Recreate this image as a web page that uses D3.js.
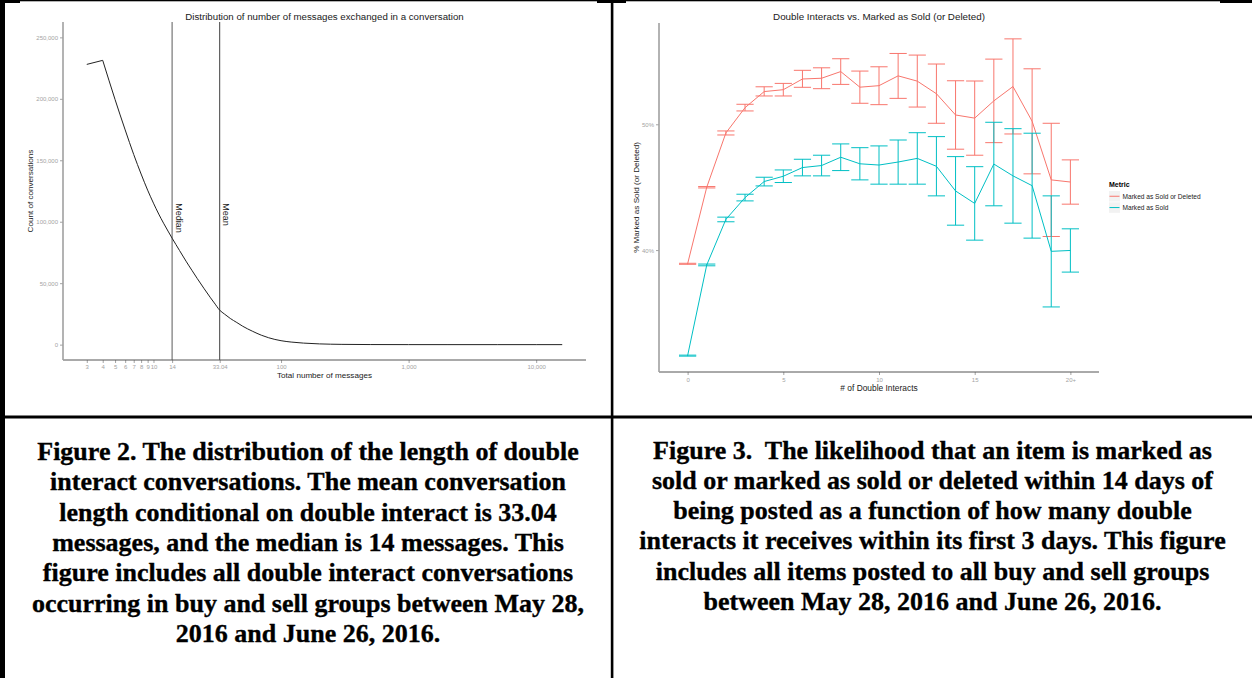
<!DOCTYPE html>
<html>
<head>
<meta charset="utf-8">
<script src="https://cdn.jsdelivr.net/npm/d3@7"></script>
<style>
  body { margin: 0; background: #fff; }
  svg { display: block; }
  .sans { font-family: "Liberation Sans", Arial, Helvetica, sans-serif; }
  .cap { font-family: "Liberation Serif", "Times New Roman", serif; font-weight: bold; white-space: pre; }
</style>
</head>
<body>
<svg id="page" width="1252" height="678"></svg>
<script>
// ---------- Figure 2: length of double interact conversations ----------
const msgCounts  = [3, 4, 5, 6, 7, 8, 9, 10, 11, 12, 13, 14, 15, 16, 17, 18, 19, 20, 22, 25, 28, 30, 33.04, 36, 40, 45, 50, 60, 70, 80, 100, 120, 150, 200, 300, 500, 1000, 2000, 5000, 10000, 16000];
const convCounts = [228000, 231300, 199400, 174700, 154700, 138800, 125700, 115100, 106200, 98800, 92400, 86600, 81400, 76600, 72100, 67900, 64050, 60500, 53900, 45400, 38100, 33900, 28050, 24900, 21300, 18000, 15000, 10800, 7700, 5600, 3200, 2100, 1250, 600, 220, 70, 20, 8, 3, 1, 0];
const msgTicks   = [3, 4, 5, 6, 7, 8, 9, 10, 14, 33.04, 100, 1000, 10000];
const countTicks = [0, 50000, 100000, 150000, 200000, 250000];
const medianMsgs = 14;
const meanMsgs   = 33.04;

// ---------- Figure 3: double interacts vs. marked as sold ----------
const interacts          = d3.range(0, 21);
const interactTicks      = [0, 5, 10, 15, 20];
const interactTickLabels = ["0", "5", "10", "15", "20+"];
const pctTicks           = [40, 50];

const soldDelMean = [38.91, 45.00, 49.31, 51.32, 52.60, 52.75, 53.60, 53.66, 54.19, 52.95, 53.07, 53.85, 53.43, 52.43, 50.74, 50.49, 51.86, 53.00, 50.24, 45.58, 45.41];
const soldDelLow  = [38.87, 44.94, 49.15, 51.06, 52.25, 52.25, 52.94, 52.83, 53.17, 51.67, 51.56, 52.06, 51.37, 50.08, 48.02, 47.54, 48.54, 49.23, 46.06, 41.08, 43.65];
const soldDelHigh = [38.95, 45.05, 49.47, 51.59, 52.98, 53.25, 54.29, 54.49, 55.21, 54.23, 54.57, 55.63, 55.50, 54.79, 53.46, 53.44, 55.18, 56.79, 54.41, 50.08, 47.17];

const soldMean = [31.61, 38.82, 42.44, 44.17, 45.45, 45.87, 46.56, 46.72, 47.38, 46.86, 46.76, 47.00, 47.29, 46.66, 44.70, 43.71, 46.84, 45.90, 45.12, 39.90, 39.97];
const soldLow  = [31.57, 38.75, 42.25, 43.91, 45.10, 45.37, 45.90, 45.90, 46.32, 45.58, 45.24, 45.24, 45.24, 44.31, 41.98, 40.79, 43.52, 42.14, 40.95, 35.48, 38.25];
const soldHigh = [31.65, 38.89, 42.62, 44.44, 45.79, 46.37, 47.22, 47.54, 48.44, 48.14, 48.28, 48.75, 49.33, 49.02, 47.43, 46.63, 50.16, 49.65, 49.29, 44.31, 41.69];

const metricNames  = ["Marked as Sold or Deleted", "Marked as Sold"];
const metricColors = ["#F8766D", "#00BFC4"];

// ---------- captions ----------
const caption2 = [
  "Figure 2. The distribution of the length of double",
  "interact conversations. The mean conversation",
  "length conditional on double interact is 33.04",
  "messages, and the median is 14 messages. This",
  "figure includes all double interact conversations",
  "occurring in buy and sell groups between May 28,",
  "2016 and June 26, 2016."
];
const caption3 = [
  "Figure 3.  The likelihood that an item is marked as",
  "sold or marked as sold or deleted within 14 days of",
  "being posted as a function of how many double",
  "interacts it receives within its first 3 days. This figure",
  "includes all items posted to all buy and sell groups",
  "between May 28, 2016 and June 26, 2016."
];

const svg = d3.select("#page");
const TICK_COL = "#a3a3a3";
const TEXT_COL = "#1a1a1a";

// ggplot-like 5% expansion of a numeric range
function expand(lo, hi, f = 0.05) { const s = hi - lo; return [lo - s * f, hi + s * f]; }

function styleTicks(axisG) {
  axisG.select(".domain").remove();
  axisG.selectAll(".tick line").attr("stroke", TICK_COL);
  axisG.selectAll(".tick text").attr("fill", TICK_COL).attr("font-size", 6)
    .attr("font-family", "Liberation Sans, Arial, sans-serif");
}

// ====================== Figure 2 ======================
(function () {
  const P = { left: 63, right: 586, top: 22, bottom: 360 };
  const g = svg.append("g").attr("class", "sans");

  const lx = expand(Math.log10(d3.min(msgCounts)), Math.log10(d3.max(msgCounts)));
  const x = d3.scaleLog().domain([10 ** lx[0], 10 ** lx[1]]).range([P.left, P.right]);
  const y = d3.scaleLinear().domain(expand(0, d3.max(countTicks))).range([P.bottom, P.top]);

  // vertical reference lines
  g.append("line").attr("x1", x(medianMsgs)).attr("x2", x(medianMsgs))
    .attr("y1", P.top).attr("y2", P.bottom).attr("stroke", "#808080").attr("stroke-width", 1.3);
  g.append("line").attr("x1", x(meanMsgs)).attr("x2", x(meanMsgs))
    .attr("y1", P.top).attr("y2", P.bottom).attr("stroke", "#2a2a2a").attr("stroke-width", 0.9);

  // distribution curve: straight first step, smooth afterwards
  const pts = msgCounts.map((m, i) => [x(m), y(convCounts[i])]);
  g.append("path").attr("d", d3.line()(pts.slice(0, 2)))
    .attr("fill", "none").attr("stroke", "#222").attr("stroke-width", 1);
  g.append("path").attr("d", d3.line().curve(d3.curveMonotoneX)(pts.slice(1)))
    .attr("fill", "none").attr("stroke", "#222").attr("stroke-width", 1);

  // vertical labels for median / mean
  [["Median", medianMsgs], ["Mean", meanMsgs]].forEach(([lab, v]) => {
    const tx = x(v) + 3.5, ty = y(115000);
    g.append("text").attr("transform", `translate(${tx},${ty}) rotate(90)`)
      .attr("font-size", 9).attr("fill", TEXT_COL).text(lab);
  });

  // axes
  const xAxis = d3.axisBottom(x).tickValues(msgTicks).tickSize(3).tickPadding(2)
    .tickFormat(d => d === meanMsgs ? "33.04" : d3.format(",")(d));
  styleTicks(g.append("g").attr("transform", `translate(0,${P.bottom})`).call(xAxis));
  g.append("line").attr("x1", P.left).attr("x2", P.right).attr("y1", P.bottom).attr("y2", P.bottom)
    .attr("stroke", "#555").attr("stroke-width", 1);

  const yAxis = d3.axisLeft(y).tickValues(countTicks).tickSize(3).tickPadding(2).tickFormat(d3.format(","));
  styleTicks(g.append("g").attr("transform", `translate(${P.left},0)`).call(yAxis));
  g.append("line").attr("x1", P.left).attr("x2", P.left).attr("y1", P.top).attr("y2", P.bottom)
    .attr("stroke", "#a0a0a0").attr("stroke-width", 1.6);

  // titles
  const cx = (P.left + P.right) / 2;
  g.append("text").attr("x", cx).attr("y", 20).attr("text-anchor", "middle")
    .attr("font-size", 9.7).attr("fill", TEXT_COL)
    .text("Distribution of number of messages exchanged in a conversation");
  g.append("text").attr("x", cx).attr("y", 378).attr("text-anchor", "middle")
    .attr("font-size", 8.1).attr("fill", TEXT_COL).text("Total number of messages");
  g.append("text").attr("transform", `translate(33,${(P.top + P.bottom) / 2}) rotate(-90)`)
    .attr("text-anchor", "middle").attr("font-size", 8.1).attr("fill", TEXT_COL)
    .text("Count of conversations");
})();

// ====================== Figure 3 ======================
(function () {
  const P = { left: 659, right: 1099, top: 23, bottom: 372 };
  const g = svg.append("g").attr("class", "sans");
  const halfW = 0.45;

  const x = d3.scaleLinear()
    .domain(expand(d3.min(interacts) - halfW, d3.max(interacts) + halfW))
    .range([P.left, P.right]);
  const y = d3.scaleLinear()
    .domain(expand(d3.min(soldLow), d3.max(soldDelHigh)))
    .range([P.bottom, P.top]);

  const series = [
    { mean: soldDelMean, low: soldDelLow, high: soldDelHigh, color: metricColors[0] },
    { mean: soldMean, low: soldLow, high: soldHigh, color: metricColors[1] }
  ];

  series.forEach(s => {
    const line = d3.line().x((d, i) => x(interacts[i])).y(d => y(d));
    g.append("path").datum(s.mean).attr("d", line)
      .attr("fill", "none").attr("stroke", s.color).attr("stroke-width", 1);

    const eb = g.append("g").attr("stroke", s.color).attr("stroke-width", 1).attr("fill", "none");
    interacts.forEach((k, i) => {
      const xl = x(k - halfW), xr = x(k + halfW), xc = x(k);
      eb.append("line").attr("x1", xc).attr("x2", xc).attr("y1", y(s.low[i])).attr("y2", y(s.high[i]));
      eb.append("line").attr("x1", xl).attr("x2", xr).attr("y1", y(s.low[i])).attr("y2", y(s.low[i]));
      eb.append("line").attr("x1", xl).attr("x2", xr).attr("y1", y(s.high[i])).attr("y2", y(s.high[i]));
    });
  });

  // axes
  const xAxis = d3.axisBottom(x).tickValues(interactTicks).tickSize(3).tickPadding(3)
    .tickFormat((d, i) => interactTickLabels[i]);
  styleTicks(g.append("g").attr("transform", `translate(0,${P.bottom})`).call(xAxis));
  g.append("line").attr("x1", P.left).attr("x2", P.right).attr("y1", P.bottom).attr("y2", P.bottom)
    .attr("stroke", "#555").attr("stroke-width", 1);

  const yAxis = d3.axisLeft(y).tickValues(pctTicks).tickSize(3).tickPadding(2).tickFormat(d => d + "%");
  styleTicks(g.append("g").attr("transform", `translate(${P.left},0)`).call(yAxis));
  g.append("line").attr("x1", P.left).attr("x2", P.left).attr("y1", P.top).attr("y2", P.bottom)
    .attr("stroke", "#a0a0a0").attr("stroke-width", 1.6);

  // titles
  const cx = (P.left + P.right) / 2;
  g.append("text").attr("x", cx).attr("y", 20).attr("text-anchor", "middle")
    .attr("font-size", 9.8).attr("fill", TEXT_COL)
    .text("Double Interacts vs. Marked as Sold (or Deleted)");
  g.append("text").attr("x", cx).attr("y", 391).attr("text-anchor", "middle")
    .attr("font-size", 8.4).attr("fill", TEXT_COL).text("# of Double Interacts");
  g.append("text").attr("transform", `translate(639,${(P.top + P.bottom) / 2}) rotate(-90)`)
    .attr("text-anchor", "middle").attr("font-size", 8.1).attr("fill", TEXT_COL)
    .text("% Marked as Sold (or Deleted)");

  // legend
  const lg = g.append("g").attr("transform", "translate(1109,183)");
  lg.append("text").attr("x", 0).attr("y", 3.5).attr("font-size", 7).attr("font-weight", "bold")
    .attr("fill", "#000").text("Metric");
  metricNames.forEach((name, i) => {
    const ky = 8 + i * 11.3;
    lg.append("rect").attr("x", 0).attr("y", ky).attr("width", 11).attr("height", 10.5).attr("fill", "#f2f2f2");
    lg.append("line").attr("x1", 0.5).attr("x2", 10.5).attr("y1", ky + 5.25).attr("y2", ky + 5.25)
      .attr("stroke", metricColors[i]).attr("stroke-width", 1);
    lg.append("text").attr("x", 13.5).attr("y", ky + 7.7).attr("font-size", 6.6).attr("fill", "#222").text(name);
  });
})();

// ====================== captions ======================
function drawCaption(lines, cx, y0) {
  const t = svg.append("text").attr("class", "cap").attr("text-anchor", "middle")
    .attr("font-size", 26).attr("fill", "#000").attr("stroke", "#000").attr("stroke-width", 0.35);
  lines.forEach((s, i) => t.append("tspan").attr("x", cx).attr("y", y0 + i * 30.3).text(s));
}
drawCaption(caption2, 308, 460);
drawCaption(caption3, 932.5, 458.5);

// ====================== table rules ======================
const rules = svg.append("g").attr("fill", "#000");
rules.append("rect").attr("x", 0).attr("y", 0).attr("width", 1252).attr("height", 1.3);
[[0, 20], [597, 626], [1220, 1252]].forEach(([a, b]) =>
  rules.append("rect").attr("x", a).attr("y", 0).attr("width", b - a).attr("height", 3));
rules.append("rect").attr("x", 0).attr("y", 0).attr("width", 5).attr("height", 678);
rules.append("rect").attr("x", 610.8).attr("y", 0).attr("width", 2.6).attr("height", 678);
rules.append("rect").attr("x", 0).attr("y", 415.5).attr("width", 1252).attr("height", 3);
</script>
</body>
</html>
